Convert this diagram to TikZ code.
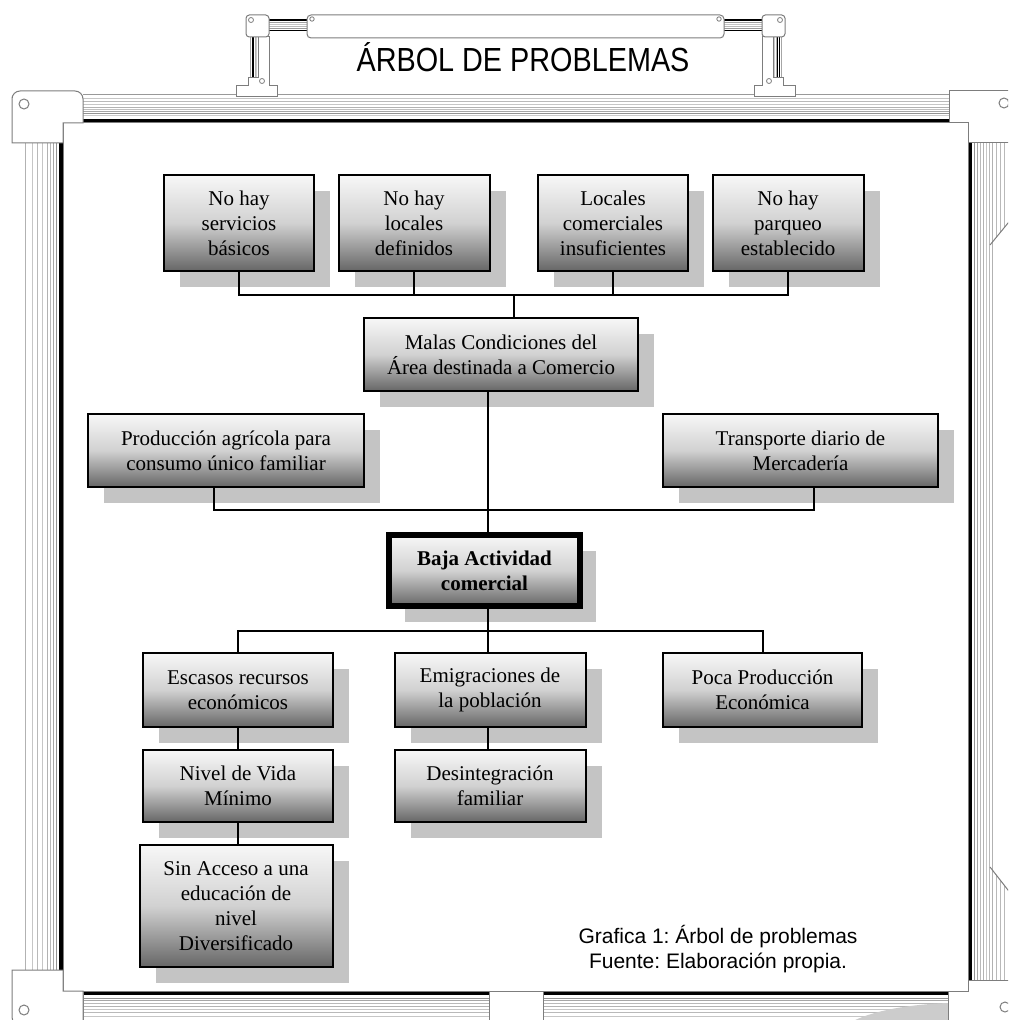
\documentclass[tikz,border=0pt]{standalone}
\usepackage{fontspec}
\setmainfont{Liberation Serif}
\newfontfamily\arialf{Liberation Sans}
\usetikzlibrary{shadows}
\definecolor{shgray}{RGB}{196,196,196}
\definecolor{outl}{RGB}{125,125,125}
\frenchspacing
\newcommand\mybracketpiece{%
  \fill[white] (269,20) rectangle (307,31);
  \foreach \o/\c in {0/black,1/black,3/gray!75,5/gray!45,7/gray!55,9/gray!80,10.5/black}
    \draw[rail, color=\c] (269,20+\o) -- (307,20+\o);
  \foreach \o/\c in {0/gray!70,2/black,3.5/black,5/gray!60,6.5/gray!40,8/gray!80}
    \draw[rail, color=\c] (250+\o,37) -- (250+\o,78);
  \draw[piece] (258,37) -- (269,37) -- (269,86) -- (277,86) -- (277,97) -- (236,97)
     -- (236,86) -- (248,86) -- (248,78) -- (258,78) -- cycle;
  \draw[outl, line width=0.6pt] (262,81) circle (2.5);
  \draw[piece, rounded corners=2.5pt] (246,15) rectangle (269,37);
  \draw[outl, line width=0.6pt] (251,20) circle (2.5);
}
\begin{document}
\begin{tikzpicture}[x=0.75pt,y=-0.75pt,
  pbox/.style={draw=black, line width=1.5pt, top color=black!3, bottom color=black!60,
    middle color=black!18, align=center, inner sep=0pt,
    font=\fontsize{15.75pt}{18.75pt}\selectfont,
    general shadow={fill=shgray, shadow xshift=12pt, shadow yshift=-12pt}},
  sz/.style 2 args={minimum width=#1*0.75pt, minimum height=#2*0.75pt},
  conn/.style={draw=black, line width=1.5pt},
  rail/.style={line width=0.75pt},
  piece/.style={draw=outl, fill=white, line width=0.75pt}]
\useasboundingbox (0,0) rectangle (1008,1020);
\clip (0,0) rectangle (1008,1020);
\fill[white] (0,0) rectangle (1008,1020);

% ---------- rails ----------
% top rail
\foreach \o/\c in {0/gray!80,4/gray!45,7/gray!55,10/gray!45,13/gray!60,15/gray!50,17/gray!70,19/gray!85,21/gray!40}
  \draw[rail, color=\c] (83,95+\o) -- (949,95+\o);
\fill[black] (83,119.5) rectangle (949,123);
% left rail
\foreach \o/\c in {0/gray!60,7/gray!45,12/gray!55,17/gray!45,22/gray!60,25/gray!55,28/gray!70,31/gray!85}
  \draw[rail, color=\c] (25+\o,130) -- (25+\o,985);
\fill[black] (58.5,130) rectangle (63,985);
% right rail
\fill[black] (968,130) rectangle (972,985);
\foreach \o/\c in {6/gray!85,9/gray!70,12/gray!55,15/gray!60,18/gray!45,21/gray!55,24/gray!60}
  \draw[rail, color=\c] (968+\o,130) -- (968+\o,985);
\foreach \xx in {996,1000,1004} {
  \draw[rail, color=gray!55] (\xx,130) -- (\xx,{245-(\xx-990)*1.22});
  \draw[rail, color=gray!55] (\xx,{867+(\xx-990)*1.28}) -- (\xx,985);
}
\draw[rail, color=outl] (990,245) -- (1010,220.6);
\draw[rail, color=outl] (990,867) -- (1010,892.6);
% bottom rails
\foreach \xa/\xb in {83/489,543/948} {
  \fill[black] (\xa,991) rectangle (\xb,995);
  \foreach \o/\c in {3/gray!85,5.5/gray!70,8/gray!55,11/gray!60,14/gray!45,17/gray!55,21/gray!45,26/gray!60}
    \draw[rail, color=\c] (\xa,995+\o) -- (\xb,995+\o);
  \draw[rail, color=outl] (\xa,991) -- (\xa,1020);
  \draw[rail, color=outl] (\xb,991) -- (\xb,1020);
}
% board
\draw[outl, fill=white, line width=0.75pt] (63,123) rectangle (968,991);
% gray blob bottom right
\fill[gray!40] (853,1021) .. controls (880,1008) and (920,1004) .. (948,1003) -- (948,1021) -- cycle;
% corner pieces
\draw[piece] (12,143) -- (12,97) [rounded corners=6pt] -- (12,91) -- (83,91) [sharp corners] -- (83,123) -- (63,123) -- (63,143) -- cycle;
\draw[outl, line width=0.75pt] (24,104) circle (5);
\draw[piece] (1015,91) -- (949,91) -- (949,123) -- (968,123) -- (968,143) -- (1015,143) -- cycle;
\draw[outl, line width=0.75pt] (1004,103) circle (5);
\draw[piece] (12,970) -- (63,970) -- (63,991) -- (83,991) -- (83,1025) -- (18,1025) [rounded corners=6pt] -- (12,1025) [sharp corners] -- cycle;
\draw[outl, line width=0.75pt] (24,1010) circle (5);
\draw[piece] (1015,980) -- (968,980) -- (968,991) -- (948,991) -- (948,1025) -- (1015,1025) -- cycle;
\draw[outl, line width=0.75pt] (1005,1007) circle (5);

% ---------- title header ----------
\begin{scope}
  \mybracketpiece
\end{scope}
\begin{scope}[shift={(1031,0)}, xscale=-1]
  \mybracketpiece
\end{scope}
\draw[piece, rounded corners=3pt] (307,15) rectangle (724,38);
\draw[outl, line width=0.6pt] (312,19) circle (2.2);
\draw[outl, line width=0.6pt] (719,19) circle (2.2);
\node[anchor=base, inner sep=0pt, font=\arialf\fontsize{21.6pt}{24pt}\selectfont] (title) at (523,72)
  {\scalebox{1}[1.16]{ÁRBOL DE PROBLEMAS}};

% ---------- tree ----------
\node[pbox, sz={150}{96}] (b1) at (239,223) {No hay\\servicios\\básicos};
\node[pbox, sz={151}{96}] (b2) at (414,223) {No hay\\locales\\definidos};
\node[pbox, sz={150}{96}] (b3) at (613,223) {Locales\\comerciales\\insuficientes};
\node[pbox, sz={151}{96}] (b4) at (788,223) {No hay\\parqueo\\establecido};
\node[pbox, sz={274}{73}] (mal) at (501,354.5) {Malas Condiciones del\\Área destinada a Comercio};
\node[pbox, sz={276}{73}] (prod) at (226,450.5) {Producción agrícola para\\consumo único familiar};
\node[pbox, sz={275}{73}] (trans) at (800.5,450.5) {Transporte diario de\\Mercadería};
\node[pbox, line width=4.5pt, sz={191}{71}, font=\fontsize{15.75pt}{18.75pt}\selectfont\bfseries] (baja) at (484.5,570.5) {Baja Actividad\\comercial};
\node[pbox, sz={190}{74}] (esc) at (238,690) {Escasos recursos\\económicos};
\node[pbox, sz={191}{74}] (emig) at (490,690) {Emigraciones de\\la población};
\node[pbox, sz={199}{74}] (poca) at (762.5,690) {Poca Producción\\Económica};
\node[pbox, sz={190}{72}] (niv) at (238,786) {Nivel de Vida\\Mínimo};
\node[pbox, sz={191}{72}] (des) at (490,786) {Desintegración\\familiar};
\node[pbox, sz={193}{122}] (sin) at (236,906) {Sin Acceso a una\\educación de\\nivel\\Diversificado};

\coordinate (j1) at (513.5,295);
\coordinate (j2) at (488,510);
\coordinate (pl) at (214,510);
\coordinate (pr) at (814,510);
\coordinate (j3) at (488,631);
\draw[conn] (b1.south) |- (j1) -| (b4.south);
\draw[conn] (b2.south) -- (b2.south |- j1);
\draw[conn] (b3.south) -- (b3.south |- j1);
\draw[conn] (j1) -- (j1 |- mal.north);
\draw[conn] (pl |- prod.south) -- (pl) -- (pr) -- (pr |- trans.south);
\draw[conn] (j2 |- mal.south) -- (j2 |- baja.north);
\draw[conn] (j3 |- baja.south) -- (j3);
\draw[conn] (esc.north) |- (j3) -| (poca.north);
\draw[conn] (j3) -- (j3 |- emig.north);
\draw[conn] (esc.south) -- (niv.north);
\draw[conn] (niv.south) -- (niv.south |- sin.north);
\draw[conn] (j3 |- emig.south) -- (j3 |- des.north);

% caption
\node[align=center, inner sep=0pt, font=\arialf\fontsize{15.75pt}{18.75pt}\selectfont] (cap) at (718,949.5)
  {Grafica 1: Árbol de problemas\\Fuente: Elaboración propia.};
\end{tikzpicture}
\end{document}
